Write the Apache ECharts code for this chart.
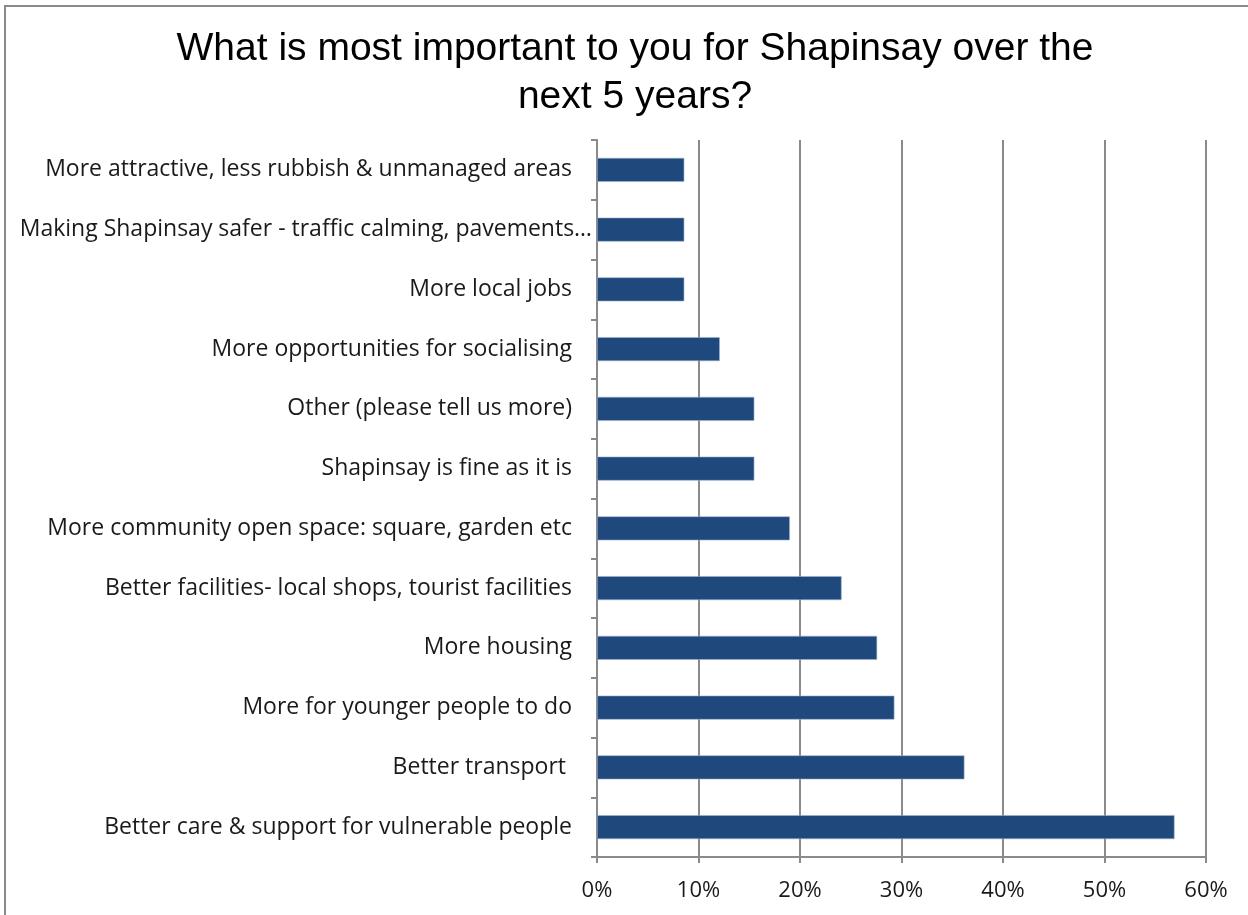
<!DOCTYPE html>
<html>
<head>
<meta charset="utf-8">
<script src="https://cdn.jsdelivr.net/npm/echarts@6/dist/echarts.min.js"></script>
<style>
  html, body { margin: 0; padding: 0; background: #ffffff; }
  #chart { width: 1248px; height: 915px; }
</style>
</head>
<body>
<div id="chart"></div>
<script>
// Survey answers, listed from the top of the chart downwards
const categories = [
  'More attractive, less rubbish & unmanaged areas',
  'Making Shapinsay safer - traffic calming, pavements\u2026',
  'More local jobs',
  'More opportunities for socialising',
  'Other (please tell us more)',
  'Shapinsay is fine as it is',
  'More community open space: square, garden etc',
  'Better facilities- local shops, tourist facilities',
  'More housing',
  'More for younger people to do',
  'Better transport ',
  'Better care & support for vulnerable people'
];

// Share of respondents choosing each answer (%)
const shares = [8.6, 8.6, 8.6, 12.1, 15.5, 15.5, 19.0, 24.1, 27.6, 29.3, 36.2, 56.9];

// Value axis ticks (%)
const axisMin = 0;
const axisMax = 60;
const axisStep = 10;

const titleLines = [
  'What is most important to you for Shapinsay over the',
  'next 5 years?'
];

const chart = echarts.init(document.getElementById('chart'), null, { renderer: 'canvas' });

const labelFont = 'Open Sans';

// The truncated answer runs a little past the axis, as Excel draws it
const categoryItems = categories.map(function (name) {
  if (name.endsWith('\u2026')) {
    return { value: name, textStyle: { padding: [0, -20, 0, 0] } };
  }
  return name;
});

chart.setOption({
  backgroundColor: '#ffffff',
  animation: false,
  title: {
    text: titleLines.join('\n'),
    left: 630,
    top: 20,
    textAlign: 'center',
    textStyle: {
      fontFamily: 'Liberation Sans',
      fontWeight: 'normal',
      fontSize: 39,
      lineHeight: 48,
      color: '#000000'
    }
  },
  graphic: [
    {
      type: 'polyline',
      silent: true,
      shape: { points: [[5, 920], [5, 6], [1250, 6]] },
      style: { stroke: '#8a8a8a', lineWidth: 2, fill: null }
    }
  ],
  grid: {
    left: 597,
    right: 42,
    top: 140,
    bottom: 58,
    containLabel: false
  },
  xAxis: {
    type: 'value',
    min: axisMin,
    max: axisMax,
    interval: axisStep,
    axisLine: { show: true, lineStyle: { color: '#8a8a8a', width: 2 } },
    axisTick: { show: true, length: 6, lineStyle: { color: '#8a8a8a', width: 2 } },
    splitLine: { show: true, lineStyle: { color: '#8a8a8a', width: 2 } },
    axisLabel: {
      formatter: '{value}%',
      margin: 23,
      fontFamily: labelFont,
      fontSize: 22,
      color: '#1a1a1a'
    }
  },
  yAxis: {
    type: 'category',
    data: categoryItems,
    inverse: true,
    axisLine: { show: true, lineStyle: { color: '#8a8a8a', width: 2 } },
    axisTick: { show: true, length: 6, alignWithLabel: false, lineStyle: { color: '#8a8a8a', width: 2 } },
    splitLine: { show: false },
    axisLabel: {
      margin: 25,
      fontFamily: labelFont,
      fontSize: 23,
      color: '#1a1a1a'
    }
  },
  series: [
    {
      type: 'bar',
      data: shares,
      barWidth: 24,
      itemStyle: { color: '#1f497d', borderColor: '#9fb4cf', borderWidth: 0.6 }
    }
  ]
});
</script>
</body>
</html>
